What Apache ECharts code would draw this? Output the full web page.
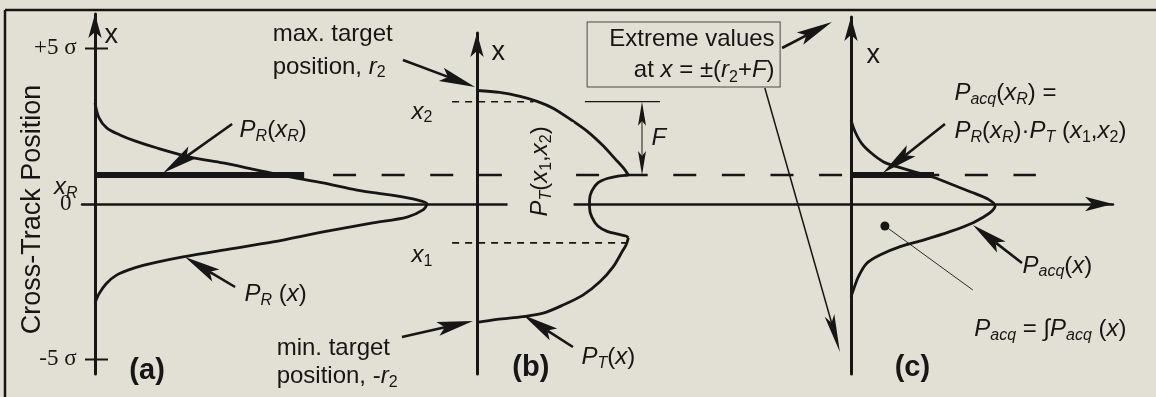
<!DOCTYPE html>
<html>
<head>
<meta charset="utf-8">
<title>Acquisition probability across track</title>
<script src="https://cdn.jsdelivr.net/npm/echarts@6/dist/echarts.min.js"></script>
<style>
  html, body { margin: 0; padding: 0; background: #e2e0d5; }
  #chart { width: 1156px; height: 397px; }
</style>
</head>
<body>
<div id="chart"></div>
<script>
// ---------------- data ----------------
// Positions are cross-track positions in sigma; densities are relative to the peak of P_R.
const receiverPos = 0.93;      // x_R
const x1Level = -1.25;         // x_1
const x2Level = 3.29;          // x_2
const prAtReceiver = 0.63;     // P_R(x_R)
const pacqAtReceiver = 0.25;   // P_acq(x_R)

// (a) receiver position density P_R(x)
const prPosition = [3.25, 2.77, 2.44, 2.22, 2.03, 1.80, 1.51, 1.32, 1.09, 0.87, 0.68, 0.45, 0.29, 0.13, 0,
  -0.19, -0.42, -0.61, -0.90, -1.22, -1.48, -1.70, -1.87, -2.06, -2.28, -2.57, -2.89, -3.18];
const prDensity = [0, 0.012, 0.036, 0.075, 0.12, 0.187, 0.286, 0.386, 0.488, 0.587, 0.687, 0.789, 0.889, 0.97, 1.0,
  0.988, 0.94, 0.837, 0.687, 0.536, 0.386, 0.265, 0.187, 0.117, 0.066, 0.033, 0.012, 0];

// (b) target position density P_T(x): upper arc, notch, lower arc
const ptUpperPosition = [3.65, 3.59, 3.46, 3.30, 3.08, 2.73, 2.32, 1.87, 1.45, 1.16, 0.93];
const ptUpperDensity = [0, 0.068, 0.13, 0.181, 0.229, 0.28, 0.334, 0.38, 0.416, 0.441, 0.456];
const ptNotchPosition = [0.93, 0.90, 0.82, 0.68, 0.42, 0.13, -0.13, -0.42, -0.71, -0.88, -0.97, -1.03, -1.09];
const ptNotchDensity = [0.456, 0.425, 0.392, 0.364, 0.346, 0.339, 0.339, 0.346, 0.364, 0.392, 0.425, 0.449, 0.456];
const ptLowerPosition = [-1.09, -1.32, -1.48, -2.02, -2.50, -2.93, -3.25, -3.51, -3.62, -3.71, -3.81];
const ptLowerDensity = [0.456, 0.449, 0.44, 0.41, 0.37, 0.319, 0.259, 0.199, 0.139, 0.06, 0];

// (c) acquisition density P_acq(x)
const pacqPosition = [2.70, 2.33, 1.95, 1.63, 1.36, 1.20, 1.04, 0.86, 0.61, 0.36, 0.15, -0.06, -0.28, -0.60,
  -0.89, -1.16, -1.37, -1.64, -1.91, -2.34, -2.77, -2.98];
const pacqDensity = [0, 0.012, 0.032, 0.062, 0.097, 0.138, 0.188, 0.248, 0.308, 0.368, 0.414, 0.434, 0.419, 0.368,
  0.298, 0.218, 0.148, 0.087, 0.047, 0.022, 0.007, 0];

// left axis ticks
const tickValues = [5, 0, -5];
const tickLabels = ['+5 σ', '0', '-5 σ'];
const tickMarks = [5, -5];

// ---------------- layout & style ----------------
const INK = '#161616';
const BG = '#e2e0d5';
const SANS = '"Liberation Sans", Arial, Helvetica, sans-serif';
const SERIF = '"Liberation Serif", "Times New Roman", serif';

const Y_ZERO = 204;          // pixel row of x = 0
const PX_PER_SIGMA = 31.1;
const PX_PER_UNIT = 332;     // pixels per unit of density
const AXIS_BOTTOM = 374;

const frames = [
  { left: 82, right: 477, origin: 95, top: 14 },
  { left: 477, right: 851, origin: 477, top: 33 },
  { left: 851, right: 1113, origin: 851, top: 17 }
];
const panels = frames.map(f => ({
  grid: { left: f.left, top: f.top, width: f.right - f.left, height: AXIS_BOTTOM - f.top },
  xMin: (f.left - f.origin) / PX_PER_UNIT,
  xMax: (f.right - f.origin) / PX_PER_UNIT,
  yMin: (Y_ZERO - AXIS_BOTTOM) / PX_PER_SIGMA,
  yMax: (Y_ZERO - f.top) / PX_PER_SIGMA
}));

const RICH = {
  tx:  { fontFamily: SANS, fontSize: 24, lineHeight: 28, color: INK },
  it:  { fontFamily: SANS, fontSize: 24, lineHeight: 28, fontStyle: 'italic', color: INK },
  sub: { fontFamily: SANS, fontSize: 16, lineHeight: 16, fontStyle: 'italic', verticalAlign: 'bottom', color: INK },
  subn:{ fontFamily: SANS, fontSize: 16, lineHeight: 16, verticalAlign: 'bottom', color: INK },
  ax:  { fontFamily: SANS, fontSize: 27, lineHeight: 30, color: INK },
  big: { fontFamily: SANS, fontSize: 27, lineHeight: 30, color: INK },
  tag: { fontFamily: SANS, fontSize: 29, lineHeight: 32, fontWeight: 'bold', color: INK },
  srf: { fontFamily: SERIF, fontSize: 23, lineHeight: 26, color: INK },
  bx:  { fontFamily: SANS, fontSize: 24, lineHeight: 31, color: INK },
  bxi: { fontFamily: SANS, fontSize: 24, lineHeight: 31, fontStyle: 'italic', color: INK },
  bxs: { fontFamily: SANS, fontSize: 16, lineHeight: 16, verticalAlign: 'bottom', color: INK }
};

// ---------------- helpers ----------------
const pairs = (dens, pos) => dens.map((d, i) => [d, pos[i]]);

function curve(gi, dens, pos) {
  return {
    type: 'line', xAxisIndex: gi, yAxisIndex: gi, data: pairs(dens, pos),
    symbol: 'none', smooth: 0.3, clip: false, silent: true, z: 3,
    lineStyle: { color: INK, width: 2.8 }
  };
}

// straight rules between two data-space points (not clipped to the panel)
function rules(gi, list, style) {
  return {
    type: 'custom', coordinateSystem: 'cartesian2d', xAxisIndex: gi, yAxisIndex: gi,
    silent: true, z: 3, data: list, encode: { x: [0, 2], y: [1, 3] },
    renderItem(params, api) {
      const a = api.coord([api.value(0), api.value(1)]);
      const b = api.coord([api.value(2), api.value(3)]);
      return {
        type: 'line', shape: { x1: a[0], y1: a[1], x2: b[0], y2: b[1] },
        style: Object.assign({ stroke: INK, fill: null }, style)
      };
    }
  };
}

function notes(gi, items) {
  return {
    type: 'scatter', xAxisIndex: gi, yAxisIndex: gi, symbolSize: 1, silent: true, clip: false, z: 6,
    itemStyle: { color: 'rgba(0,0,0,0)', opacity: 1 },
    label: { show: true, position: [0, 0], color: INK, opacity: 1, rich: RICH },
    data: items.map(it => ({
      value: [it.x, it.y],
      label: Object.assign({ formatter: it.text, align: it.align || 'left', verticalAlign: it.va || 'middle' }, it.style || {})
    }))
  };
}

// arrows drawn in pixel space from data-space end points
function arrows(gi, list, headLen, headWidth, lineWidth, doubleHead) {
  return {
    type: 'custom', coordinateSystem: 'cartesian2d', xAxisIndex: gi, yAxisIndex: gi,
    silent: true, z: 4, data: list, encode: { x: [0, 2], y: [1, 3] },
    renderItem(params, api) {
      const a = api.coord([api.value(0), api.value(1)]);
      const b = api.coord([api.value(2), api.value(3)]);
      const len = Math.hypot(b[0] - a[0], b[1] - a[1]);
      const ux = (b[0] - a[0]) / len, uy = (b[1] - a[1]) / len;
      const nx = -uy, ny = ux;
      const head = (tip, s) => {
        const cx = tip[0] - s * ux * headLen, cy = tip[1] - s * uy * headLen;
        const notch = [tip[0] - s * ux * headLen * 0.8, tip[1] - s * uy * headLen * 0.8];
        return {
          notch,
          shape: {
            type: 'polygon',
            shape: { points: [tip, [cx + nx * headWidth / 2, cy + ny * headWidth / 2], notch,
                              [cx - nx * headWidth / 2, cy - ny * headWidth / 2]] },
            style: { fill: INK }
          }
        };
      };
      const hb = head(b, 1);
      const children = [hb.shape];
      let start = a;
      if (doubleHead) { const ha = head(a, -1); children.push(ha.shape); start = ha.notch; }
      children.unshift({
        type: 'line',
        shape: { x1: start[0], y1: start[1], x2: hb.notch[0], y2: hb.notch[1] },
        style: { stroke: INK, lineWidth }
      });
      return { type: 'group', children };
    }
  };
}

// ---------------- series ----------------
const series = [];

// panel (a)
series.push(curve(0, prDensity, prPosition));
series.push({
  type: 'line', xAxisIndex: 0, yAxisIndex: 0, symbol: 'none', silent: true, z: 3,
  data: [[0, receiverPos], [prAtReceiver, receiverPos]], lineStyle: { color: INK, width: 6 }
});
// receiver level carried across all three panels, broken where the P_T(x1,x2) label sits
series.push(rules(0, [[0.717, receiverPos, 1.247, receiverPos]], { lineWidth: 2.5, lineDash: [23, 25.6] }));
series.push(rules(0, [[1.446, receiverPos, 2.834, receiverPos]], { lineWidth: 2.5, lineDash: [23, 25.6], lineDashOffset: 47.6 }));
series.push({
  type: 'custom', coordinateSystem: 'cartesian2d', xAxisIndex: 0, yAxisIndex: 0, silent: true, z: 4,
  data: tickMarks.map(v => [0, v]),
  renderItem(params, api) {
    const p = api.coord([api.value(0), api.value(1)]);
    return { type: 'line', shape: { x1: p[0] - 10, y1: p[1], x2: p[0] + 13, y2: p[1] }, style: { stroke: INK, lineWidth: 2 } };
  }
});
series.push(arrows(0, [[0.413, 2.572, 0.205, 0.997], [0.422, -2.669, 0.271, -1.704]], 36, 14, 2.6, false));
const tickLabelX = [-0.054, -0.069, -0.054];
series.push(notes(0, [
  ...tickLabels.map((t, i) => ({ x: tickLabelX[i], y: tickValues[i], text: '{srf|' + t + '}', align: 'right' })),
  { x: -0.051, y: 0.51, text: '{it|x}{sub|R}', align: 'right' },
  { x: 0.03, y: 5.39, text: '{ax|x}' },
  { x: -0.188, y: -0.19, text: '{big|Cross-Track Position}', align: 'center', style: { rotate: 90 } },
  { x: 0.437, y: 2.35, text: '{it|P}{sub|R}{tx|(}{it|x}{sub|R}{tx|)}' },
  { x: 0.452, y: -2.93, text: '{it|P}{sub|R}{tx| (}{it|x}{tx|)}' },
  { x: 0.105, y: -5.40, text: '{tag|(a)}' }
]));

// panel (b)
series.push(curve(1, ptUpperDensity, ptUpperPosition));
series.push(curve(1, ptNotchDensity, ptNotchPosition));
series.push(curve(1, ptLowerDensity, ptLowerPosition));
series.push(rules(1, [[-0.075, x2Level, 0.17, x2Level], [-0.075, x1Level, 0.452, x1Level]],
  { lineWidth: 1.6, lineDash: [7, 6] }));
series.push(rules(1, [[0.325, x2Level, 0.551, x2Level]], { lineWidth: 1.2 }));
series.push(arrows(1, [[0.497, receiverPos, 0.497, x2Level]], 24, 8, 1, true));
series.push(arrows(1, [[-0.223, 4.630, -0.006, 3.762], [-0.226, -4.277, -0.012, -3.762],
  [0.289, -4.598, 0.139, -3.569], [0.919, 5.016, 1.069, 5.852]], 36, 14, 2.6, false));
series.push(arrows(1, [[0.867, 3.730, 1.093, -4.759]], 38, 10, 1.5, false));
series.push(notes(1, [
  { x: 0.045, y: 4.84, text: '{ax|x}' },
  { x: -0.196, y: 2.94, text: '{it|x}{subn|2}' },
  { x: -0.196, y: -1.67, text: '{it|x}{subn|1}' },
  { x: 0.527, y: 2.11, text: '{it|F}' },
  { x: 0.193, y: 1.03, text: '{it|P}{sub|T}{tx|(}{it|x}{subn|1}{tx|,}{it|x}{subn|2}{tx|)}', align: 'center',
    style: { rotate: 90, backgroundColor: BG, padding: [19, 4, 19, 4] } },
  { x: 0.316, y: -4.95, text: '{it|P}{sub|T}{tx|(}{it|x}{tx|)}' },
  { x: 0.108, y: -5.29, text: '{tag|(b)}' },
  { x: -0.614, y: 5.43, text: '{tx|max. target}' },
  { x: -0.614, y: 4.39, text: '{tx|position, }{it|r}{subn|2}' },
  { x: -0.602, y: -4.66, text: '{tx|min. target}' },
  { x: -0.602, y: -5.56, text: '{tx|position, -}{it|r}{subn|2}' },
  { x: 0.913, y: 4.79, align: 'right',
    text: '{bx|Extreme values}\n{bx|at }{bxi|x}{bx| = ±(}{bxi|r}{bxs|2}{bx|+}{bxi|F}{bx|)}',
    style: { width: 182, padding: [1, 5, 1, 5], borderColor: '#4a4a4a', borderWidth: 1, backgroundColor: BG } }
]));

// panel (c)
series.push(curve(2, pacqDensity, pacqPosition));
series.push({
  type: 'line', xAxisIndex: 2, yAxisIndex: 2, symbol: 'none', silent: true, z: 3,
  data: [[0, receiverPos], [pacqAtReceiver, receiverPos]], lineStyle: { color: INK, width: 6 }
});
series.push(rules(2, [[0.102, -0.707, 0.367, -2.765]], { lineWidth: 1, stroke: '#2a2a2a' }));
series.push({
  type: 'scatter', xAxisIndex: 2, yAxisIndex: 2, symbolSize: 9, silent: true, z: 5,
  itemStyle: { color: INK, opacity: 1 }, data: [[0.102, -0.707]]
});
series.push(arrows(2, [[0.283, 2.572, 0.096, 0.997], [0.515, -1.897, 0.367, -0.675]], 36, 14, 2.6, false));
series.push(notes(2, [
  { x: 0.048, y: 4.76, text: '{ax|x}' },
  { x: 0.313, y: 3.54, text: '{it|P}{sub|acq}{tx|(}{it|x}{sub|R}{tx|) =}' },
  { x: 0.313, y: 2.32, text: '{it|P}{sub|R}{tx|(}{it|x}{sub|R}{tx|)·}{it|P}{sub|T}{tx| (}{it|x}{subn|1}{tx|,}{it|x}{subn|2}{tx|)}' },
  { x: 0.518, y: -2.01, text: '{it|P}{sub|acq}{tx|(}{it|x}{tx|)}' },
  { x: 0.373, y: -4.05, text: '{it|P}{sub|acq}{tx| = ∫}{it|P}{sub|acq}{tx| (}{it|x}{tx|)}' },
  { x: 0.133, y: -5.29, text: '{tag|(c)}' }
]));

// ---------------- chart ----------------
const hidden = { axisTick: { show: false }, axisLabel: { show: false }, splitLine: { show: false } };
const chart = echarts.init(document.getElementById('chart'), null, { renderer: 'canvas' });
chart.setOption({
  backgroundColor: BG,
  animation: false,
  grid: panels.map(p => p.grid),
  xAxis: panels.map((p, i) => Object.assign({
    gridIndex: i, type: 'value', min: p.xMin, max: p.xMax,
    axisLine: { onZero: true, lineStyle: { color: INK, width: 2.5 },
      symbol: i === 2 ? ['none', 'arrow'] : 'none', symbolSize: [11, 28] }
  }, hidden)),
  yAxis: panels.map((p, i) => Object.assign({
    gridIndex: i, type: 'value', min: p.yMin, max: p.yMax,
    axisLine: { onZero: true, lineStyle: { color: INK, width: 3 }, symbol: ['none', 'arrow'], symbolSize: [10, 24] }
  }, hidden)),
  graphic: [
    { type: 'line', shape: { x1: 5, y1: 10, x2: 1156, y2: 10 }, style: { stroke: INK, lineWidth: 2.5 } },
    { type: 'line', shape: { x1: 5, y1: 10, x2: 5, y2: 397 }, style: { stroke: INK, lineWidth: 2.5 } }
  ],
  series
});
</script>
</body>
</html>
